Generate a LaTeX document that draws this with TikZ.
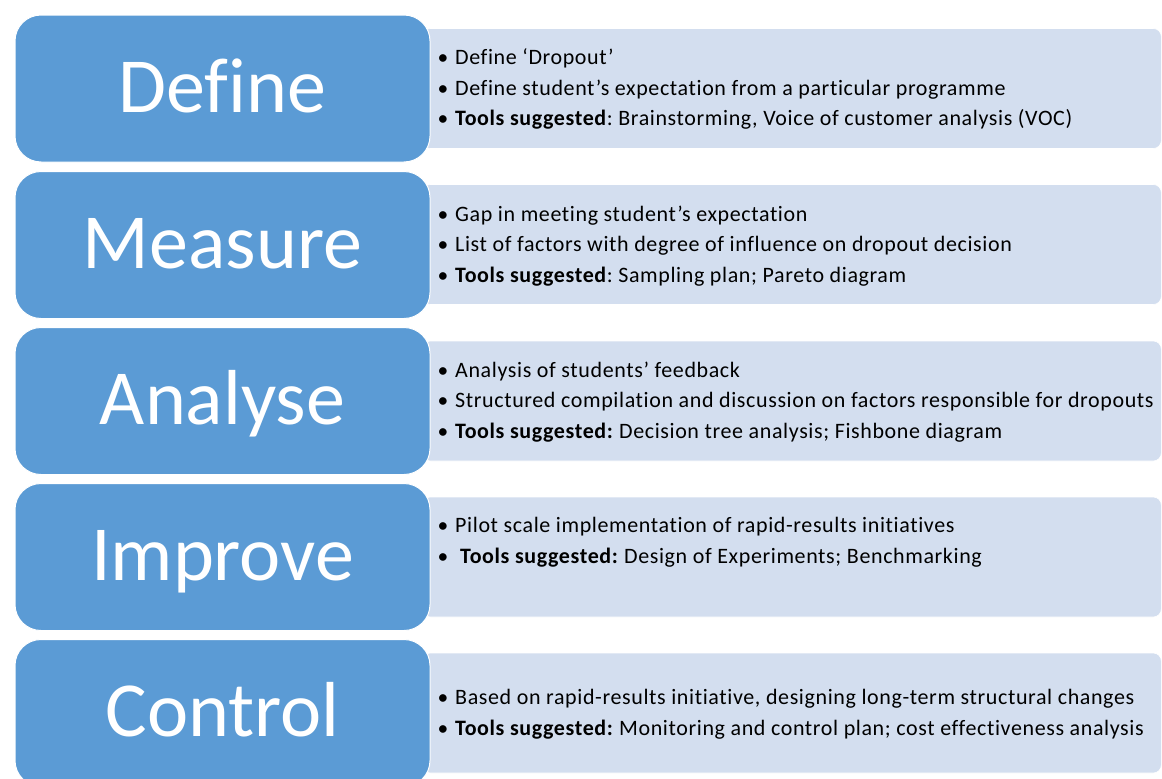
\documentclass[tikz,border=0pt]{standalone}
\usepackage{fontspec}
\setmainfont[Ligatures=NoCommon]{Carlito}
\newfontfamily\itemfont[Ligatures=NoCommon, LetterSpace=2.8]{Carlito}
\definecolor{dblue}{HTML}{5B9BD5}
\definecolor{lblue}{HTML}{D3DEEF}
\frenchspacing
\begin{document}
\begin{tikzpicture}[x=1pt,y=-1pt,
 phase/.style={draw=white, line width=1pt, fill=dblue, rounded corners=26pt,
   minimum width=415pt, minimum height=147pt, inner sep=0pt, text=white,
   text height=47pt, text depth=0pt, font=\fontsize{78}{80}\selectfont},
 detail/.style={fill=lblue, draw=white, line width=0.6pt, rounded corners=8pt,
   minimum width=739pt, minimum height=120pt, inner sep=0pt, anchor=west},
 bul/.style={font=\fontsize{21.5}{24}\selectfont, inner sep=0pt, anchor=base},
 item/.style={font=\itemfont\fontsize{22}{24}\selectfont, inner sep=0pt, anchor=base west, text=black}]
\useasboundingbox (0,0) rectangle (1162,779);
\clip (0,0) rectangle (1162,779);
% detail boxes
\node[detail] (d1) at (422,88.5) {};
\node[detail] (d2) at (422,244.5) {};
\node[detail] (d3) at (422,401) {};
\node[detail] (d4) at (422,557) {};
\node[detail] (d5) at (422,713) {};
% phase boxes
\node[phase] (p1) at (222.5,88.5) {Define};
\node[phase] (p2) at (222.5,245) {Measure};
\node[phase] (p3) at (222.5,401) {Analyse};
\node[phase] (p4) at (222.5,557) {Improve};
\node[phase] (p5) at (222.5,713) {Control};
% Define
\node[bul] (b11) at (443,64) {•};
\node[item] (t11) at (455,64) {Define ‘Dropout’};
\node[bul] (b12) at (443,95) {•};
\node[item] (t12) at (455,95) {Define student’s expectation from a particular programme};
\node[bul] (b13) at (443,125) {•};
\node[item] (t13) at (455,125) {\textbf{Tools suggested}: Brainstorming, Voice of customer analysis (VOC)};
% Measure
\node[bul] (b21) at (443,221) {•};
\node[item] (t21) at (455,221) {Gap in meeting student’s expectation};
\node[bul] (b22) at (443,251) {•};
\node[item] (t22) at (455,251) {List of factors with degree of influence on dropout decision};
\node[bul] (b23) at (443,282) {•};
\node[item] (t23) at (455,282) {\textbf{Tools suggested}: Sampling plan; Pareto diagram};
% Analyse
\node[bul] (b31) at (443,377) {•};
\node[item] (t31) at (455,377) {Analysis of students’ feedback};
\node[bul] (b32) at (443,407) {•};
\node[item] (t32) at (455,407) {Structured compilation and discussion on factors responsible for dropouts};
\node[bul] (b33) at (443,438) {•};
\node[item] (t33) at (455,438) {\textbf{Tools suggested:} Decision tree analysis; Fishbone diagram};
% Improve
\node[bul] (b41) at (443,532) {•};
\node[item] (t41) at (455,532) {Pilot scale implementation of rapid-results initiatives};
\node[bul] (b42) at (443,563) {•};
\node[item] (t42) at (460,563) {\textbf{Tools suggested:} Design of Experiments; Benchmarking};
% Control
\node[bul] (b51) at (443,704) {•};
\node[item] (t51) at (455,704) {Based on rapid-results initiative, designing long-term structural changes};
\node[bul] (b52) at (443,735) {•};
\node[item] (t52) at (455,735) {\textbf{Tools suggested:} Monitoring and control plan; cost effectiveness analysis};
\end{tikzpicture}
\end{document}
